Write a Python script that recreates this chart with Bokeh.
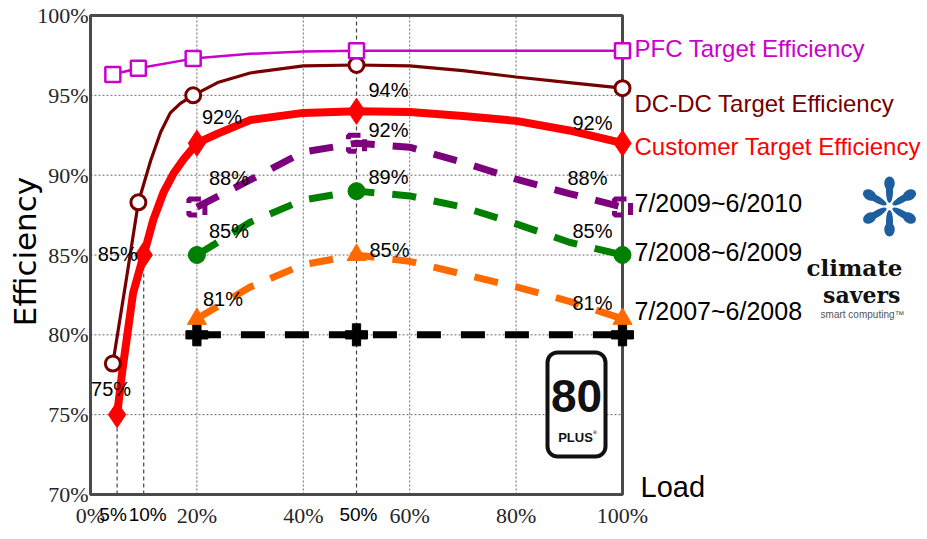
import math

from bokeh.core.properties import value
from bokeh.embed import file_html
from bokeh.models import BoxAnnotation, Label, Range1d
from bokeh.plotting import figure
from bokeh.resources import INLINE

# ---------------------------------------------------------------- data
load_ticks = [0, 20, 40, 60, 80, 100]
eff_ticks = [70, 75, 80, 85, 90, 95, 100]
load_labels = ["0%", "20%", "40%", "60%", "80%", "100%"]
eff_labels = ["70%", "75%", "80%", "85%", "90%", "95%", "100%"]

# PFC target efficiency
pfc_mark_load = [4.2, 9, 19.3, 50, 100]
pfc_mark_eff = [96.3, 96.7, 97.3, 97.8, 97.8]
pfc_curve_load = [4.2, 9, 19.3, 30, 40, 50, 100]
pfc_curve_eff = [96.3, 96.7, 97.3, 97.6, 97.75, 97.8, 97.8]

# DC-DC target efficiency
dcdc_mark_load = [4.2, 9, 19.3, 50, 100]
dcdc_mark_eff = [78.2, 88.3, 95.0, 96.9, 95.45]
dcdc_curve_load = [4.2, 6.6, 9, 11.3, 13.2, 15.0, 16.9, 19.3, 23.9, 30, 40, 50,
                   60, 70, 80, 90, 100]
dcdc_curve_eff = [78.2, 83.2, 88.3, 90.9, 92.7, 93.9, 94.5, 95.0, 95.8, 96.4, 96.85,
                  96.9, 96.85, 96.55, 96.15, 95.8, 95.45]

# Customer target efficiency
cust_mark_load = [5, 10, 20, 50, 100]
cust_mark_eff = [75, 85, 92, 94, 92]
cust_curve_load = [5, 6, 8, 10, 11.8, 13.7, 15.6, 17.5, 20, 23.9, 30, 40, 50, 60,
                   70, 80, 90, 100]
cust_curve_eff = [75, 77.8, 82.6, 85, 87.2, 88.9, 90.1, 91.0, 92, 92.6, 93.45, 93.9,
                  94, 93.95, 93.7, 93.4, 92.8, 92]

# 80 PLUS programme phases
phase_mark_load = [20, 50, 100]
phase_curve_load = [20, 30, 40, 50, 60, 70, 80, 90, 100]
p2009_mark_eff = [88, 92, 88]
p2009_curve_eff = [88, 89.7, 91.45, 92, 91.75, 90.8, 89.75, 88.85, 88]
p2008_mark_eff = [85, 89, 85]
p2008_curve_eff = [85, 87.05, 88.45, 89, 88.7, 88.0, 86.95, 85.8, 85]
p2007_mark_eff = [81, 85, 81]
p2007_curve_eff = [81, 83.0, 84.4, 85, 84.6, 83.8, 83.0, 82.1, 81]
base_mark_eff = [80, 80, 80]

# ---------------------------------------------------------------- layout
# The plot frame spans the whole canvas; the chart box is drawn inside it so
# that the side legend, logos and titles can sit next to the box.
W, H = 927, 539
BOX_L, BOX_T, BOX_W, BOX_H = 90, 15, 532, 479
X0, X1 = load_ticks[0], load_ticks[-1]
Y0, Y1 = eff_ticks[0], eff_ticks[-1]
KX = (X1 - X0) / BOX_W   # load units per pixel
KY = (Y1 - Y0) / BOX_H   # efficiency units per pixel


def sx(px):
    """canvas pixel column -> load value"""
    return X0 + (px - BOX_L) * KX


def sy(py):
    """canvas pixel row -> efficiency value"""
    return Y1 - (py - BOX_T) * KY


MAGENTA = "#cc00cc"
MAROON = "#760000"
RED = "#ff0000"
PURPLE = "#7d007d"
GREEN = "#008000"
ORANGE = "#ff6a00"
SANS = "Liberation Sans"
SERIF = "Liberation Serif"

p = figure(width=W, height=H, x_range=Range1d(sx(0), sx(W)), y_range=Range1d(sy(H), sy(0)),
           output_backend="svg", toolbar_location=None, min_border=0)
p.axis.visible = False
p.grid.visible = False
p.outline_line_color = None
p.background_fill_color = "white"
p.border_fill_color = "white"

# ---------------------------------------------------------------- grid, box, ticks
inner_x = load_ticks[1:-1]
inner_y = eff_ticks[1:-1]
p.segment(x0=inner_x, y0=[Y0] * len(inner_x), x1=inner_x, y1=[Y1] * len(inner_x),
          line_color="#6a6a6a", line_width=1, line_dash="2 2")
p.segment(x0=[X0] * len(inner_y), y0=inner_y, x1=[X1] * len(inner_y), y1=inner_y,
          line_color="#6a6a6a", line_width=1, line_dash="2 2")

# drop lines at 5 %, 10 % and 50 % load
p.segment(x0=[cust_mark_load[0], cust_mark_load[1], cust_mark_load[3]],
          y0=[Y0, Y0, Y0],
          x1=[cust_mark_load[0], cust_mark_load[1], cust_mark_load[3]],
          y1=[cust_mark_eff[0], cust_mark_eff[1], Y1],
          line_color="#444444", line_dash="4 3", line_width=1.2)

p.quad(left=[X0], right=[X1], bottom=[Y0], top=[Y1], fill_color=None,
       line_color="#4a4a4a", line_width=3)

p.text(x=load_ticks, y=[sy(BOX_T + BOX_H + 8)] * len(load_ticks), text=load_labels,
       text_font=value(SERIF), text_font_size="22px", text_color="#262626",
       text_align="center", text_baseline="top")
p.text(x=[sx(BOX_L - 2)] * len(eff_ticks), y=eff_ticks, text=eff_labels,
       text_font=value(SERIF), text_font_size="22px", text_color="#262626",
       text_align="right", text_baseline="middle")

# ---------------------------------------------------------------- series
DASH = "24 18"
p.line(phase_mark_load, base_mark_eff, line_color="black", line_width=7, line_dash="24 20")
p.scatter(phase_mark_load, base_mark_eff, marker="plus", size=22,
          fill_color="black", line_color="black", line_width=1)

p.line(phase_curve_load, p2007_curve_eff, line_color=ORANGE, line_width=7, line_dash=DASH)
p.scatter(phase_mark_load, p2007_mark_eff, marker="triangle", size=19,
          fill_color=ORANGE, line_color=ORANGE)

p.line(phase_curve_load, p2008_curve_eff, line_color=GREEN, line_width=7, line_dash=DASH)
p.scatter(phase_mark_load, p2008_mark_eff, marker="circle", size=17,
          fill_color=GREEN, line_color=GREEN)

p.line(phase_curve_load, p2009_curve_eff, line_color=PURPLE, line_width=7, line_dash=DASH)
p.scatter(phase_mark_load, p2009_mark_eff, marker="square", size=16,
          fill_color=None, line_color=PURPLE, line_width=5, line_dash="12 8")

p.line(cust_curve_load, cust_curve_eff, line_color=RED, line_width=8)
p.scatter(cust_mark_load, cust_mark_eff, marker="diamond", size=26,
          fill_color=RED, line_color=RED)

p.line(dcdc_curve_load, dcdc_curve_eff, line_color=MAROON, line_width=3.2)
p.scatter(dcdc_mark_load, dcdc_mark_eff, marker="circle", size=15,
          fill_color="white", line_color=MAROON, line_width=3)

p.line(pfc_curve_load, pfc_curve_eff, line_color=MAGENTA, line_width=2.5)
p.scatter(pfc_mark_load, pfc_mark_eff, marker="square", size=15,
          fill_color="white", line_color=MAGENTA, line_width=2.5)

# ---------------------------------------------------------------- value labels
value_points = [
    (cust_mark_load[1], cust_mark_eff[1], -26, 1),
    (cust_mark_load[0], cust_mark_eff[0], -6, 26),
    (cust_mark_load[2], cust_mark_eff[2], 25, 26),
    (phase_mark_load[0], p2009_mark_eff[0], 32, 29),
    (phase_mark_load[0], p2008_mark_eff[0], 32, 24),
    (phase_mark_load[0], p2007_mark_eff[0], 26, 20),
    (cust_mark_load[3], cust_mark_eff[3], 32, 21),
    (phase_mark_load[1], p2009_mark_eff[1], 32, 13),
    (phase_mark_load[1], p2008_mark_eff[1], 32, 14),
    (phase_mark_load[1], p2007_mark_eff[1], 33, 5),
    (cust_mark_load[4], cust_mark_eff[4], -30, 20),
    (phase_mark_load[2], p2009_mark_eff[2], -35, 29),
    (phase_mark_load[2], p2008_mark_eff[2], -30, 24),
    (phase_mark_load[2], p2007_mark_eff[2], -30, 16),
]
for x, y, dx, dy in value_points:
    p.add_layout(Label(x=x, y=y, x_offset=dx, y_offset=dy, text=f"{y:g}%",
                       text_font=SANS, text_font_size="20px", text_color="black",
                       text_align="center", text_baseline="middle"))

# extra load ticks in a sans face under the box
for x, dx in ((cust_mark_load[0], -4), (cust_mark_load[1], 4), (cust_mark_load[3], 2)):
    p.add_layout(Label(x=x, y=sy(503), x_offset=dx, text=f"{x:g}%",
                       text_font=SANS, text_font_size="19px", text_color="black",
                       text_align="center", text_baseline="top"))

# ---------------------------------------------------------------- side legend
legend_rows = [
    ("PFC Target Efficiency", MAGENTA, 48, "24px"),
    ("DC-DC Target Efficiency", MAROON, 103, "24px"),
    ("Customer Target Efficiency", RED, 146, "24px"),
    ("7/2009~6/2010", "black", 202, "25px"),
    ("7/2008~6/2009", "black", 251, "25px"),
    ("7/2007~6/2008", "black", 310, "25px"),
]
for text, color, row, size in legend_rows:
    p.add_layout(Label(x=sx(634), y=sy(row), text=text, text_font=SANS,
                       text_font_size=size, text_color=color,
                       text_align="left", text_baseline="middle"))

# axis titles
p.add_layout(Label(x=sx(24), y=sy(251), text="Efficiency", angle=math.pi / 2,
                   text_font="DejaVu Sans", text_font_size="31px", text_color="black",
                   text_align="center", text_baseline="middle"))
p.add_layout(Label(x=sx(640), y=sy(486), text="Load", text_font=SANS,
                   text_font_size="29px", text_color="black",
                   text_align="left", text_baseline="middle"))

# ---------------------------------------------------------------- 80 PLUS badge
p.add_layout(BoxAnnotation(left=sx(547), right=sx(605), top=sy(352), bottom=sy(456),
                           border_radius=10, fill_color="white", fill_alpha=1,
                           line_color="#111111", line_alpha=1, line_width=4))
p.add_layout(Label(x=sx(576), y=sy(395), text="80", text_font=SANS,
                   text_font_style="bold", text_font_size="46px", text_color="#111111",
                   text_align="center", text_baseline="middle"))
p.add_layout(Label(x=sx(575), y=sy(437), text="PLUS", text_font=SANS,
                   text_font_style="bold", text_font_size="13px", text_color="#111111",
                   text_align="center", text_baseline="middle"))
p.add_layout(Label(x=sx(592), y=sy(431), text="®", text_font="DejaVu Sans",
                   text_font_size="5px", text_color="#111111",
                   text_align="left", text_baseline="middle"))

# ---------------------------------------------------------------- Climate Savers mark
# six teardrop petals: a slim stem plus a round outer end for each
STAR_CX, STAR_CY = 889, 206
BLUE = "#1d5f9e"
petal_dirs = [math.radians(a) for a in (90, 150, 210, 270, 330, 30)]
stem_x = [sx(STAR_CX + 15 * math.cos(a)) for a in petal_dirs]
stem_y = [sy(STAR_CY - 15 * math.sin(a)) for a in petal_dirs]
head_x = [sx(STAR_CX + 23 * math.cos(a)) for a in petal_dirs]
head_y = [sy(STAR_CY - 23 * math.sin(a)) for a in petal_dirs]
p.ellipse(x=stem_x, y=stem_y, width=23, height=7, angle=petal_dirs,
          width_units="screen", height_units="screen", fill_color=BLUE, line_color=None)
p.ellipse(x=head_x, y=head_y, width=14, height=10.5, angle=petal_dirs,
          width_units="screen", height_units="screen", fill_color=BLUE, line_color=None)

p.add_layout(Label(x=sx(902), y=sy(267), text="climate", text_font="DejaVu Serif",
                   text_font_style="bold", text_font_size="23px", text_color="#111111",
                   text_align="right", text_baseline="alphabetic"))
p.add_layout(Label(x=sx(900), y=sy(294), text="savers", text_font="DejaVu Serif",
                   text_font_style="bold", text_font_size="22px", text_color="#111111",
                   text_align="right", text_baseline="alphabetic"))
p.add_layout(Label(x=sx(904), y=sy(314), text="smart computing™", text_font=SANS,
                   text_font_size="10px", text_color="#555555",
                   text_align="right", text_baseline="middle"))

open("out.html", "w").write(file_html(p, INLINE))
